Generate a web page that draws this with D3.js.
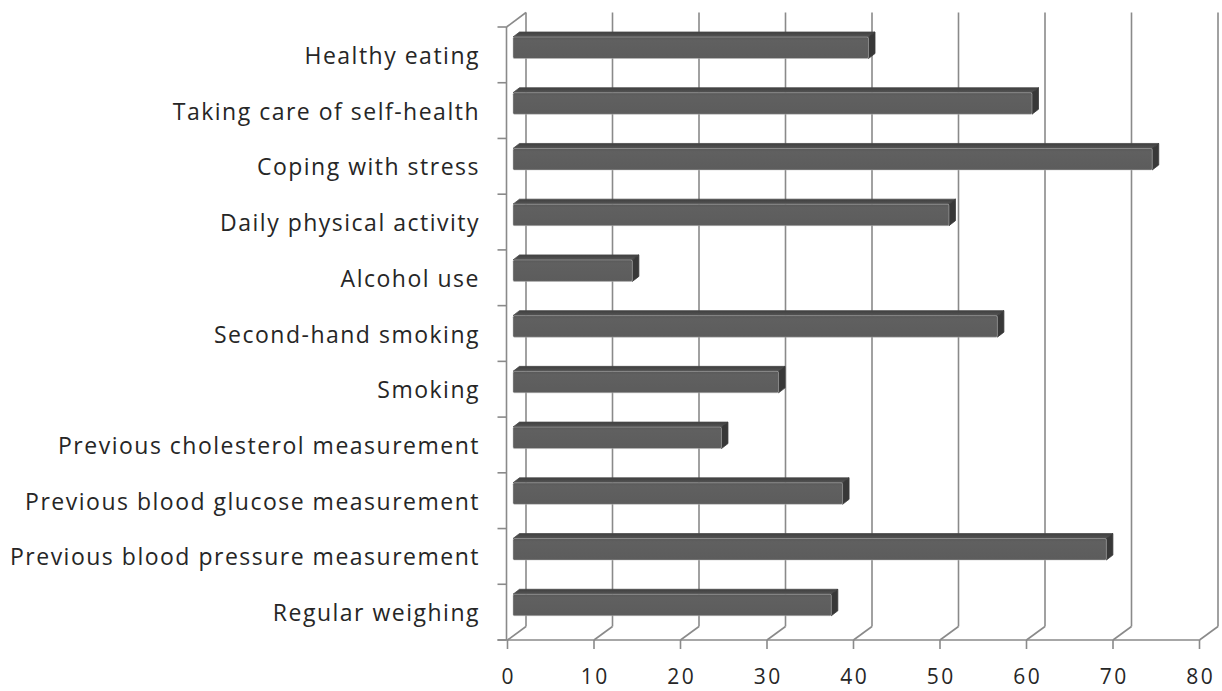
<!DOCTYPE html>
<html>
<head>
<meta charset="utf-8">
<script src="https://cdn.jsdelivr.net/npm/d3@7"></script>
<style>
  body { margin: 0; background: #fff; }
  svg { display: block; }
  .cat-label { font-family: "Open Sans", sans-serif; font-size: 23px; letter-spacing: 1.5px; fill: #262626; }
  .tick-label { font-family: "Open Sans", sans-serif; font-size: 21px; letter-spacing: 2.5px; fill: #262626; }
</style>
</head>
<body>
<div id="chart"></div>
<script>
let categories = [
  "Healthy eating",
  "Taking care of self-health",
  "Coping with stress",
  "Daily physical activity",
  "Alcohol use",
  "Second-hand smoking",
  "Smoking",
  "Previous cholesterol measurement",
  "Previous blood glucose measurement",
  "Previous blood pressure measurement",
  "Regular weighing"
];
let values = [41.1, 60.0, 73.9, 50.4, 13.8, 56.0, 30.7, 24.1, 38.1, 68.6, 36.8];
let tickValues = [0, 10, 20, 30, 40, 50, 60, 70, 80];

let width = 1222;
let height = 691;

// front plane of the box and the depth offset to the back wall
let plotLeft = 507.5, plotRight = 1199.5;
let plotTop = 27, plotFloor = 640;
let depthX = 18.5, depthY = -13.5;

let gridColor = "#8a8a8a";

/* Scales */
let xScale = d3.scaleLinear().domain([0, 80]).range([plotLeft, plotRight]);
let yScale = d3.scaleBand().domain(categories).range([plotTop, plotFloor]);

let svg = d3
  .select("#chart")
  .append("svg")
  .attr("width", width)
  .attr("height", height);

/* Back wall gridlines and floor */
let grid = svg.append("g").attr("class", "grid")
  .style("stroke", gridColor)
  .style("stroke-width", 1.6)
  .style("fill", "none");

grid.selectAll(".back-line")
  .data(tickValues)
  .enter()
  .append("line")
  .attr("x1", d => xScale(d) + depthX)
  .attr("x2", d => xScale(d) + depthX)
  .attr("y1", plotTop + depthY - 1)
  .attr("y2", plotFloor + depthY);

grid.selectAll(".floor-line")
  .data(tickValues)
  .enter()
  .append("line")
  .attr("x1", d => xScale(d))
  .attr("y1", plotFloor)
  .attr("x2", d => xScale(d) + depthX)
  .attr("y2", plotFloor + depthY);

/* Left wall */
grid.append("line")
  .attr("x1", plotLeft - 1).attr("x2", plotLeft - 1)
  .attr("y1", plotTop).attr("y2", plotFloor);
grid.append("line")
  .attr("x1", plotLeft - 1).attr("y1", plotTop)
  .attr("x2", plotLeft + depthX).attr("y2", plotTop + depthY - 1);

let catTicks = categories.map(d => yScale(d)).concat([plotFloor]);
grid.selectAll(".cat-tick")
  .data(catTicks)
  .enter()
  .append("line")
  .attr("x1", plotLeft - 10)
  .attr("x2", plotLeft - 1)
  .attr("y1", d => d)
  .attr("y2", d => d);

/* Bars (3D) */
let barOffX = 5.5, barOffY = -2;   // front face shift into the box
let sideX = 6.5, sideY = -5;       // thickness of the bar
let barTop = 12, barH = 21.5;

let defs = svg.append("defs");
let topGrad = defs.append("linearGradient")
  .attr("id", "topGrad").attr("x1", 0).attr("y1", 0).attr("x2", 0).attr("y2", 1);
topGrad.append("stop").attr("offset", "0%").attr("stop-color", "#3f3f3f");
topGrad.append("stop").attr("offset", "100%").attr("stop-color", "#555");

let frontGrad = defs.append("linearGradient")
  .attr("id", "frontGrad").attr("x1", 0).attr("y1", 0).attr("x2", 0).attr("y2", 1);
frontGrad.append("stop").attr("offset", "0%").attr("stop-color", "#585858");
frontGrad.append("stop").attr("offset", "15%").attr("stop-color", "#606060");
frontGrad.append("stop").attr("offset", "100%").attr("stop-color", "#5c5c5c");

let bars = svg.append("g").attr("class", "bars")
  .selectAll("g")
  .data(categories.map((c, i) => ({ name: c, value: values[i] })))
  .enter()
  .append("g");

function barGeom(d) {
  let x0 = xScale(0) + barOffX;
  let x1 = xScale(d.value) + barOffX;
  let y0 = yScale(d.name) + barTop + barOffY;
  let y1 = y0 + barH;
  return { x0, x1, y0, y1 };
}

// top face
bars.append("path")
  .attr("d", d => {
    let g = barGeom(d);
    return `M${g.x0},${g.y0}L${g.x1},${g.y0}L${g.x1 + sideX},${g.y0 + sideY}L${g.x0 + sideX},${g.y0 + sideY}Z`;
  })
  .style("fill", "url(#topGrad)")
  .style("stroke", "#4a4a4a")
  .style("stroke-width", 0.8)
  .style("stroke-linejoin", "round");

// side face
bars.append("path")
  .attr("d", d => {
    let g = barGeom(d);
    return `M${g.x1},${g.y0}L${g.x1 + sideX},${g.y0 + sideY}L${g.x1 + sideX},${g.y1 + sideY}L${g.x1},${g.y1}Z`;
  })
  .style("fill", "#383838")
  .style("stroke", "#3a3a3a")
  .style("stroke-width", 0.8)
  .style("stroke-linejoin", "round");

// front face
bars.append("rect")
  .attr("x", d => barGeom(d).x0)
  .attr("y", d => barGeom(d).y0)
  .attr("width", d => barGeom(d).x1 - barGeom(d).x0)
  .attr("height", barH)
  .attr("rx", 1.5)
  .style("fill", "url(#frontGrad)")
  .style("stroke", "#bdbdbd")
  .style("stroke-opacity", 0.6)
  .style("stroke-width", 0.8);

/* Front floor axis */
let axis = svg.append("g").attr("class", "x axis")
  .style("stroke", gridColor)
  .style("stroke-width", 1.6);

axis.append("line")
  .attr("x1", plotLeft - 10).attr("x2", plotRight)
  .attr("y1", plotFloor).attr("y2", plotFloor);

axis.selectAll(".tick")
  .data(tickValues)
  .enter()
  .append("line")
  .attr("x1", d => xScale(d)).attr("x2", d => xScale(d))
  .attr("y1", plotFloor).attr("y2", plotFloor + 9);

svg.append("g")
  .selectAll("text")
  .data(tickValues)
  .enter()
  .append("text")
  .attr("class", "tick-label")
  .attr("x", d => xScale(d) + 1.25)
  .attr("y", 684)
  .attr("text-anchor", "middle")
  .text(d => d);

/* Category labels */
svg.append("g")
  .selectAll("text")
  .data(categories)
  .enter()
  .append("text")
  .attr("class", "cat-label")
  .attr("x", 480)
  .attr("y", d => yScale(d) + yScale.bandwidth() / 2 + 9)
  .attr("text-anchor", "end")
  .text(d => d);
</script>
</body>
</html>
